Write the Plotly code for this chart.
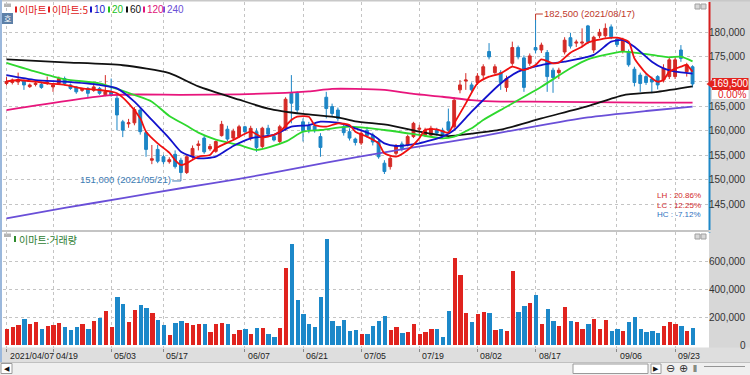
import plotly.graph_objects as go

# ---------------- data ----------------
opens = [
    169600, 169800, 169900, 170200, 168950, 169400, 169400, 169600, 168900, 169600,
    170600, 169300, 168900, 168200, 168600, 168200, 168600, 167300, 167900, 166600,
    161800, 161400, 161600, 164200, 159600, 154000, 156200, 154700, 153700, 155200,
    154000, 151500, 154700, 157000, 158500, 156300, 155800, 159000, 160300, 158500,
    158800, 160800, 158450, 159800, 156800, 160500, 158800, 157800, 160500, 167600,
    167600, 161800, 161000, 161000, 158800, 166800, 164900, 164200, 160800, 159800,
    158300, 157500, 160100, 159100, 157800, 153400, 152700, 155400, 157300, 157100,
    158800, 160300, 159100, 159100, 160100, 160100, 161800, 160800, 168300, 170100,
    169300, 169800, 171300, 176100, 171800, 171800, 168800, 173700, 176900, 174800,
    173700, 176900, 176400, 175900, 172300, 171800, 176000, 178900, 177800, 177800,
    181300, 176400, 179300, 179300, 181100, 178600, 176100, 176100, 172500, 171300,
    171000, 170500, 171000, 170300, 171000, 171000, 176400, 172000, 173000]
closes = [
    170000, 170300, 170400, 169300, 169300, 169650, 168800, 169800, 169300, 170600,
    169600, 168600, 167900, 168400, 167600, 168900, 167600, 167900, 167300, 163200,
    160100, 161600, 164300, 159800, 156200, 154300, 153800, 153700, 154100, 152700,
    151500, 154700, 156400, 157300, 155700, 156800, 157800, 161300, 158300, 159900,
    160800, 159800, 160480, 156600, 160500, 159300, 158100, 160800, 166400, 165600,
    164200, 160000, 160200, 160000, 156600, 164500, 163500, 162500, 159600, 158500,
    157600, 159500, 159000, 157700, 154700, 151700, 154400, 156900, 156400, 158800,
    161500, 160500, 160100, 160500, 159500, 158800, 160100, 166200, 169300, 170300,
    168300, 171100, 173000, 175000, 173000, 169800, 170600, 176900, 175000, 168800,
    175200, 176400, 177400, 171000, 170800, 172300, 178400, 177200, 178000, 178000,
    178100, 179000, 180000, 180800, 179100, 177500, 178400, 173400, 169800, 169600,
    169800, 169900, 169300, 172700, 174400, 174400, 174700, 173400, 169500]
highs = [
    170900, 170600, 171800, 170400, 169600, 170000, 169700, 171000, 169600, 171000,
    171000, 169600, 169100, 168700, 168900, 169800, 168900, 171300, 170600, 167300,
    162200, 162400, 164800, 164700, 160000, 157100, 157100, 155100, 154600, 156000,
    154500, 155100, 157000, 158000, 159000, 157300, 158000, 162000, 161000, 160400,
    161200, 161000, 161000, 160500, 160800, 161200, 159300, 161200, 166800, 171300,
    168000, 162500, 161800, 161500, 159500, 167900, 165500, 164700, 161500, 160500,
    158600, 160000, 160800, 159600, 158200, 154000, 155000, 157300, 157800, 159200,
    161800, 161200, 160600, 161000, 160600, 160600, 164500, 166800, 170300, 171700,
    169800, 171700, 173500, 177800, 173500, 172300, 171200, 178100, 177300, 175300,
    175700, 182500, 177900, 176400, 172800, 172800, 179000, 179900, 178500, 180800,
    181500, 179300, 180700, 181800, 181600, 179000, 178900, 176500, 173000, 171800,
    171500, 171000, 171300, 173500, 174800, 174900, 177400, 173800, 173300]
lows = [
    169200, 169400, 169300, 168300, 168700, 169000, 168500, 169300, 167900, 169300,
    169200, 168300, 167500, 167900, 166600, 167900, 167300, 167000, 166900, 160100,
    158700, 160600, 161100, 159200, 154700, 153200, 153400, 153200, 153300, 152300,
    151000, 151200, 154300, 156000, 155300, 155900, 155500, 158800, 157900, 158000,
    158500, 159400, 158000, 155700, 156400, 158800, 157800, 157400, 160000, 161500,
    163500, 157800, 159500, 159600, 154700, 162500, 162800, 162000, 159000, 158000,
    157000, 157100, 158600, 157000, 154300, 151200, 152100, 155000, 155800, 156800,
    158500, 158800, 158700, 158700, 159000, 158300, 159500, 160400, 167600, 168300,
    167800, 169300, 170300, 174500, 171400, 168300, 167900, 173200, 174500, 167900,
    173200, 175700, 175800, 167900, 167700, 170500, 175500, 176700, 177000, 177100,
    177600, 175800, 178800, 178900, 178600, 177000, 175700, 173000, 169000, 167900,
    169300, 167600, 168400, 169800, 170500, 170500, 174000, 171000, 168800]
volumes = [v * 1000 for v in [
    116, 128, 145, 187, 152, 164, 114, 138, 145, 157,
    128, 109, 133, 149, 114, 173, 195, 244, 133, 346,
    292, 168, 254, 287, 266, 230, 178, 145, 74, 159,
    173, 159, 147, 149, 152, 97, 154, 159, 152, 81,
    111, 116, 83, 123, 121, 78, 57, 123, 548, 721,
    325, 221, 149, 128, 346, 754, 173, 140, 178, 102,
    109, 83, 78, 138, 173, 209, 107, 133, 88, 97,
    149, 83, 97, 114, 114, 57, 244, 619, 500, 228,
    168, 221, 235, 228, 109, 119, 102, 531, 240, 280,
    299, 361, 152, 256, 173, 140, 270, 173, 164, 119,
    149, 187, 119, 183, 102, 114, 102, 168, 199, 119,
    97, 102, 88, 138, 164, 149, 138, 102, 123]]
volume_dir = ("RRRBRRBRRR" "BBBRBRBRRB" "BRRBBRBBRB" "BRRRBRRRBR" "RBRBRBBRRB"
              "BBBBBBBBBB" "BRBBBBRRBR" "RRRRBBBRRR" "BRRBRBRRBB" "RBRBBRRBRR"
              "BRRRBBRBBB" "BBBRRRBRB")
bar_idx = list(range(len(closes)))

# moving averages (bar index, value)
ma5_idx = [0, 2, 5, 7, 10, 13, 16, 18, 19, 21, 23, 24, 26, 28, 29, 30, 31, 33, 35, 36,
           39, 42, 44, 45, 47, 49, 50, 52, 53, 55, 57, 59, 60, 62, 64, 65, 67, 69, 71, 72,
           74, 76, 77, 79, 81, 83, 85, 87, 89, 91, 92, 94, 95, 97, 99, 100, 103, 105, 107, 108,
           110, 112, 113, 114, 116, 117, 118]
ma5_val = [170000, 170300, 169960, 169630, 169300, 168600, 168270, 167930, 167600, 165560,
           162520, 159800, 157430, 155530, 154040, 153030, 153370, 154720, 155060, 156420,
           158100, 159800, 158660, 158800, 159800, 162180, 162850, 162850, 161150, 160820,
           161500, 161150, 159800, 158790, 157430, 155400, 154720, 156080, 158450, 160140,
           160280, 159600, 161500, 165560, 169630, 170980, 171660, 173015, 172340, 173350,
           174500, 173700, 173830, 175860, 177070, 177900, 178780, 178900, 178100, 174710,
           171660, 169960, 170300, 172000, 173015, 173350, 172000]
ma10_idx = [0, 5, 10, 16, 19, 22, 25, 28, 30, 33, 36, 39, 42, 43, 46, 49, 52, 54, 57, 60,
            63, 65, 67, 71, 75, 77, 80, 85, 88, 92, 96, 101, 104, 106, 108, 111, 113, 115, 118]
ma10_val = [171300, 170300, 169960, 169300, 168600, 165900, 162180, 158450, 155740, 154400,
            154720, 156900, 158450, 158660, 159130, 160820, 161150, 161830, 161630, 160480,
            159130, 157430, 156890, 157430, 158790, 160140, 163870, 169600, 172000, 173350,
            174030, 175400, 178100, 178430, 177070, 174030, 172680, 172000, 171600]
ma20_idx = [0, 5, 10, 16, 19, 22, 25, 28, 31, 33, 36, 40, 43, 48, 51, 54, 59, 65, 71, 75,
            77, 80, 82, 86, 92, 97, 100, 106, 111, 114, 116, 118]
ma20_val = [173800, 172000, 170450, 169630, 168500, 167250, 165900, 163000, 161000, 159600,
            158200, 157100, 156100, 157770, 159800, 160140, 160820, 160140, 159130, 158450,
            158790, 160480, 162180, 164880, 168950, 172680, 174500, 176060, 175390, 174920,
            175050, 174100]
ma60_idx = [0, 10, 20, 28, 33, 40, 45, 51, 57, 60, 66, 71, 76, 80, 85, 92, 100, 106, 112, 118]
ma60_val = [174500, 173900, 173300, 171700, 169000, 166300, 164500, 163400, 162700, 161900,
            161100, 159800, 158900, 159400, 160200, 162500, 165000, 167200, 167900, 169000]
ma120_idx = [0, 18, 30, 40, 48, 52, 56, 60, 65, 70, 75, 80, 85, 90, 100, 110, 118]
ma120_val = [164200, 167250, 167300, 167400, 167700, 168000, 168500, 168500, 168300, 167500,
             166900, 166200, 165900, 165900, 165800, 165700, 165700]
ma240_idx = [0, 10, 20, 30, 40, 50, 60, 70, 80, 90, 100, 110, 118]
ma240_val = [142200, 144300, 146300, 148300, 150200, 152400, 154600, 156600, 158500, 160700,
             162700, 164000, 164900]

tick_idx = [0, 8, 18, 27, 41, 51, 61, 71, 81, 91, 105, 115]
tick_labels = ["2021/04/07", "04/19", "05/03", "05/17", "06/07", "06/21", "07/05",
               "07/19", "08/02", "08/17", "09/06", "09/23"]
price_ticks = [145000, 150000, 155000, 160000, 165000, 170000, 175000, 180000]
volume_ticks = [0, 200000, 400000, 600000]

high_idx, high_val, high_text = 91, 182500, "182,500 (2021/08/17)"
low_idx, low_val, low_text = 30, 151000, "151,000 (2021/05/21)"
last_price, last_change = 169500, "0.00%"
stats = [("LH : 20.86%", "#d22b2b"), ("LC : 12.25%", "#d22b2b"), ("HC : -7.12%", "#2d6fc0")]

# ---------------- styling / layout ----------------
W, H = 750, 375
UP, DN = "#d42a26", "#1d86c6"
VUP, VDN = "#e0231e", "#1c88c9"
GRID = "#c4c4c4"
NUMFONT = "Liberation Sans, Arial, sans-serif"
KFONT = "Noto Sans CJK KR, sans-serif"


def fx(p):
    return p / W


def fy(p):
    return 1 - p / H


# pixel calibration of the plot
BAR_PX, BAR0 = 5.814, 6.5
X_LEFT, X_RIGHT = (2.5 - BAR0) / BAR_PX, (708 - BAR0) / BAR_PX
PPX = 5000 / 24.6            # price per pixel
P_BOT = 180000 - (230 - 32.3) * PPX
P_TOP = 180000 + (32.3 - 2) * PPX
VPX = 200000 / 28.1          # volume per pixel
V_BOT = -(347.5 - 345.4) * VPX
V_TOP = (345.4 - 232) * VPX

fig = go.Figure()
fig.add_trace(go.Candlestick(
    x=bar_idx, open=opens, high=highs, low=lows, close=closes,
    increasing=dict(line=dict(color=UP, width=1), fillcolor=UP),
    decreasing=dict(line=dict(color=DN, width=1), fillcolor=DN),
    whiskerwidth=0, hoverinfo="skip", showlegend=False, xaxis="x", yaxis="y"))

for xs, ys, col in [(ma240_idx, ma240_val, "#6a4fd8"), (ma120_idx, ma120_val, "#e8157c"),
                    (ma60_idx, ma60_val, "#111111"), (ma20_idx, ma20_val, "#2ed82e"),
                    (ma10_idx, ma10_val, "#1212cc"), (ma5_idx, ma5_val, "#f01010")]:
    fig.add_trace(go.Scatter(x=xs, y=ys, mode="lines", hoverinfo="skip", showlegend=False,
                             line=dict(color=col, width=1.8, shape="spline", smoothing=0.6),
                             xaxis="x", yaxis="y"))

fig.add_trace(go.Bar(x=bar_idx, y=volumes, width=0.74,
                     marker=dict(color=[VUP if d == "R" else VDN for d in volume_dir],
                                 line=dict(width=0)),
                     hoverinfo="skip", showlegend=False, xaxis="x2", yaxis="y2"))

shapes = []


def rect(x0, y0, x1, y1, fill, line=None, layer="below"):
    shapes.append(dict(type="rect", xref="paper", yref="paper", x0=fx(x0), x1=fx(x1),
                       y0=fy(y1), y1=fy(y0), fillcolor=fill, layer=layer,
                       line=dict(width=1 if line else 0, color=line or fill)))


rect(709, 0, 750, 362, "#d7d7d7")            # right axis panel
rect(0, 347.5, 750, 362, "#dedede")          # date strip
rect(0, 230, 709, 232, "#c4c4c4")            # panel separator
rect(0, 0, 750, 1.5, "#c8c8c8")              # top line
rect(0, 0, 2, 362, "#9bb8dc")                # left frame
rect(0, 362, 750, 375, "#efefef")            # bottom control bar
rect(0, 362, 750, 362.8, "#b0b0b0")
rect(1, 363.5, 12, 373.5, "#ffffff", "#9a9a9a")
rect(573, 364, 648, 373.5, "#ffffff", "#9a9a9a")
rect(651, 364, 661, 373.5, "#ffffff", "#9a9a9a")
rect(704, 366, 745, 366.8, "#777777")
rect(4, 3.5, 11, 7, "#b4b4b4")               # panel icons
rect(4, 233.5, 11, 237, "#b4b4b4")
for yy in (4, 234):
    rect(695, yy, 700, yy + 5, "#d8d8d8", "#a0a0a0", "above")
    rect(701, yy, 706, yy + 5, "#d8d8d8", "#a0a0a0", "above")
rect(2, 13, 13, 24, "#5d80a8", layer="above")  # 호 button

# current-price bar on the axis edge
shapes.append(dict(type="rect", xref="paper", yref="y", x0=fx(708.5), x1=fx(710.5),
                   y0=last_price, y1=P_TOP, fillcolor="#d62020", line=dict(width=0)))
shapes.append(dict(type="rect", xref="paper", yref="y", x0=fx(708.5), x1=fx(710.5),
                   y0=P_BOT, y1=last_price, fillcolor="#1e88c8", line=dict(width=0)))
shapes.append(dict(type="rect", xref="paper", yref="y2", x0=fx(708.5), x1=fx(710.5),
                   y0=V_TOP - 0.5 * VPX, y1=V_TOP + 10 * VPX, fillcolor="#1e88c8",
                   line=dict(width=0)))
box_h = 6 * PPX
shapes.append(dict(type="rect", xref="paper", yref="y", x0=fx(712), x1=fx(748.5),
                   y0=last_price - box_h, y1=last_price + box_h, fillcolor="#e3221d",
                   line=dict(width=0), layer="above"))
shapes.append(dict(type="path", xref="paper", yref="y", fillcolor="#e3221d", layer="above",
                   line=dict(width=0),
                   path=f"M {fx(706.5)},{last_price} L {fx(712)},{last_price + 4 * PPX} "
                        f"L {fx(712)},{last_price - 4 * PPX} Z"))
shapes.append(dict(type="rect", xref="paper", yref="y", x0=fx(712), x1=fx(748.5),
                   y0=last_price - box_h - 9 * PPX, y1=last_price - box_h,
                   fillcolor="#ffffff", line=dict(width=0), layer="above"))

# high / low leaders
hi_top = high_val + 6 * PPX
shapes.append(dict(type="line", xref="x", yref="y", x0=high_idx, x1=high_idx,
                   y0=high_val, y1=hi_top, line=dict(color="#c0392b", width=1)))
shapes.append(dict(type="line", xref="x", yref="y", x0=high_idx, x1=high_idx + 1.25,
                   y0=hi_top, y1=hi_top, line=dict(color="#c0392b", width=1)))
lo_bot = low_val - 6 * PPX
shapes.append(dict(type="line", xref="x", yref="y", x0=low_idx, x1=low_idx,
                   y0=low_val, y1=lo_bot, line=dict(color="#3c7cb4", width=1)))
shapes.append(dict(type="line", xref="x", yref="y", x0=low_idx - 1.5, x1=low_idx,
                   y0=lo_bot, y1=lo_bot, line=dict(color="#3c7cb4", width=1)))

ann = []


def text(x, y, s, color="#333", size=9.5, anchor="left", family=NUMFONT, xref="paper",
         yref="paper", xshift=0):
    ann.append(dict(x=x, y=y, xref=xref, yref=yref, text=s, showarrow=False,
                    xanchor=anchor, yanchor="middle", xshift=xshift, borderpad=0,
                    font=dict(color=color, size=size, family=family)))


for v in price_ticks:
    if v != 170000:   # hidden behind the current-price box in the reference
        text(fx(747), v, f"{v:,}", anchor="right", yref="y", size=10)
for v in volume_ticks:
    text(fx(747), v, f"{v:,}", anchor="right", yref="y2", size=10)
for i, s in zip(tick_idx, tick_labels):
    text(i, fy(355.5), s, color="#222", size=8.8, xref="x", xshift=2)

text(fx(730), last_price, f"{last_price:,}", color="#ffffff", size=10, anchor="center",
     yref="y")
text(fx(747), last_price - box_h - 4.5 * PPX, last_change, color="#e3221d", size=10,
     anchor="right", yref="y")
text(high_idx + 1.2, hi_top, high_text, color="#c0392b", size=9.5, xref="x",
     yref="y")
text(low_idx - 1.5, lo_bot + 1.5 * PPX, low_text, color="#3c7cb4", size=9.5, xref="x",
     yref="y", anchor="right")
for k, (s, c) in enumerate(stats):
    text(fx(702), fy(196 + 9.3 * k), s, color=c, size=8, anchor="right")

legend_items = [("이마트", 15, "#e02020"), ("이마트:5", 48, "#e02020"), ("10", 90, "#1515c8"),
                ("20", 108, "#22c022"), ("60", 126, "#111111"), ("120", 143, "#e0157a"),
                ("240", 163, "#6b4fd6")]
for s, x0, c in legend_items:
    rect(x0, 6.5, x0 + 2, 12.5, c, layer="above")
    text(fx(x0 + 3), fy(10), s, color=c, size=10,
         family=KFONT if not s.isdigit() else NUMFONT)
rect(14, 236, 16, 242, "#2e8b2e", layer="above")
text(fx(17.5), fy(239.5), "이마트:거래량", color="#2e7d32", size=10, family=KFONT)
text(fx(7.5), fy(18.5), "호", color="#ffffff", size=8, anchor="center", family=KFONT)
text(fx(6.5), fy(368.5), "◀", color="#111", size=7, anchor="center", family="DejaVu Sans")
text(fx(656), fy(368.5), "▶", color="#111", size=7, anchor="center", family="DejaVu Sans")
text(fx(670), fy(368.5), "⊖", color="#333", size=11, anchor="center", family="DejaVu Sans")
text(fx(683), fy(368.5), "⊕", color="#333", size=11, anchor="center", family="DejaVu Sans")
text(fx(695), fy(368.5), "⦀", color="#333", size=9, anchor="center", family="DejaVu Sans")

axis_common = dict(range=[X_LEFT, X_RIGHT], domain=[fx(2.5), fx(708)], tickvals=tick_idx,
                   showticklabels=False, showgrid=True, gridcolor=GRID, griddash="dot",
                   gridwidth=1, zeroline=False, showline=False, fixedrange=True)
fig.update_layout(
    width=W, height=H, margin=dict(l=0, r=0, t=0, b=0),
    paper_bgcolor="#ffffff", plot_bgcolor="#ffffff", showlegend=False, bargap=0,
    xaxis=dict(anchor="y", rangeslider=dict(visible=False), ticks="", **axis_common),
    xaxis2=dict(anchor="y2", matches="x", ticks="outside", ticklen=3, tickcolor="#888",
                **axis_common),
    yaxis=dict(domain=[fy(230), fy(2)], range=[P_BOT, P_TOP], tickvals=price_ticks,
               showticklabels=False, showgrid=True, gridcolor=GRID, griddash="dot",
               zeroline=False, anchor="x", fixedrange=True),
    yaxis2=dict(domain=[fy(347.5), fy(232)], range=[V_BOT, V_TOP], tickvals=volume_ticks[1:],
                showticklabels=False, showgrid=True, gridcolor=GRID, griddash="dot",
                zeroline=False, anchor="x2", fixedrange=True),
    shapes=shapes, annotations=ann,
)
fig.write_html("out.html", config={"displayModeBar": False},
               post_script="document.body.style.margin='0px';"
                           "document.body.style.overflow='hidden';")
